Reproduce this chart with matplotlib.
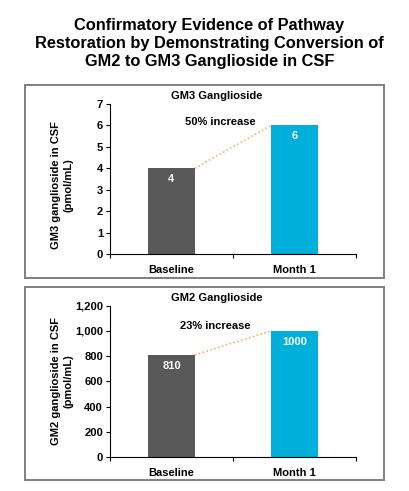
import matplotlib
matplotlib.use("Agg")
import matplotlib.pyplot as plt
from matplotlib.patches import Rectangle
from matplotlib.ticker import FuncFormatter

plt.rcParams['font.family'] = ['Liberation Sans', 'DejaVu Sans']
plt.rcParams['font.weight'] = 'bold'

categories = ['Baseline', 'Month 1']
gm3_values = [4, 6]
gm2_values = [810, 1000]
gm3_labels = ['4', '6']
gm2_labels = ['810', '1000']
gm3_ticks = [0, 1, 2, 3, 4, 5, 6, 7]
gm2_ticks = [0, 200, 400, 600, 800, 1000, 1200]

bar_colors = ['#595959', '#00B0DA']
line_color = '#F5A840'
bar_w = 0.38

fig = plt.figure(figsize=(4.09, 4.91), dpi=100)
fig.text(0.512, 0.912,
         'Confirmatory Evidence of Pathway\nRestoration by Demonstrating Conversion of\nGM2 to GM3 Ganglioside in CSF',
         ha='center', va='center', fontsize=11.8, fontweight='bold', linespacing=1.26)

# panel frames
for bottom in [0.4338, 0.0224]:
    fig.patches.append(Rectangle((0.0611, bottom), 0.8778, 0.3931, transform=fig.transFigure,
                                 fill=False, edgecolor='#7F7F7F', linewidth=1.4))


def draw_panel(ax, values, labels, ticks, title, ylabel, ylabel_y, note, note_xy, label_off, fmt=None):
    x = list(range(len(categories)))
    ax.bar(x, values, width=bar_w, color=bar_colors)
    for xi, v, lab in zip(x, values, labels):
        ax.text(xi, v - label_off, lab, ha='center', va='center', color='white',
                fontsize=8, fontweight='bold')
    ax.plot([x[0] + bar_w / 2, x[1] - bar_w / 2], [values[0], values[1]],
            linestyle=':', color=line_color, linewidth=1.1)
    ax.text(note_xy[0], note_xy[1], note, ha='center', va='center', fontsize=8, fontweight='bold')
    ax.set_xlim(-0.5, 1.5)
    ax.set_ylim(ticks[0], ticks[-1])
    ax.set_yticks(ticks)
    if fmt:
        ax.yaxis.set_major_formatter(fmt)
    ax.set_xticks([-0.5, 0.5, 1.5])
    ax.set_xticklabels([])
    ax.set_xticks(x, minor=True)
    ax.set_xticklabels(categories, minor=True)
    ax.tick_params(axis='x', which='minor', length=0, pad=8, labelsize=8)
    ax.tick_params(axis='x', which='major', length=3, direction='out')
    ax.tick_params(axis='y', length=3, pad=2, labelsize=8)
    for lab in ax.get_xticklabels(minor=True) + ax.get_yticklabels():
        lab.set_fontweight('bold')
    ax.spines['top'].set_visible(False)
    ax.spines['right'].set_visible(False)
    ax.text(0.435, 1.053, title, transform=ax.transAxes, ha='center', va='center',
            fontsize=8, fontweight='bold')
    ax.text(-0.195, ylabel_y, ylabel, transform=ax.transAxes, rotation=90, ha='center', va='center',
            fontsize=8, fontweight='bold', linespacing=1.3)


ax1 = fig.add_axes([0.269, 0.4827, 0.601, 0.3055])
draw_panel(ax1, gm3_values, gm3_labels, gm3_ticks, 'GM3 Ganglioside',
           'GM3 ganglioside in CSF\n(pmol/mL)', 0.46, '50% increase', (0.395, 6.17), 0.5)

ax2 = fig.add_axes([0.269, 0.0692, 0.601, 0.3082])
draw_panel(ax2, gm2_values, gm2_labels, gm2_ticks, 'GM2 Ganglioside',
           'GM2 ganglioside in CSF\n(pmol/mL)', 0.5, '23% increase', (0.354, 1039), 88,
           fmt=FuncFormatter(lambda v, p: f'{int(v):,}'))

fig.savefig('out.png', dpi=100)
